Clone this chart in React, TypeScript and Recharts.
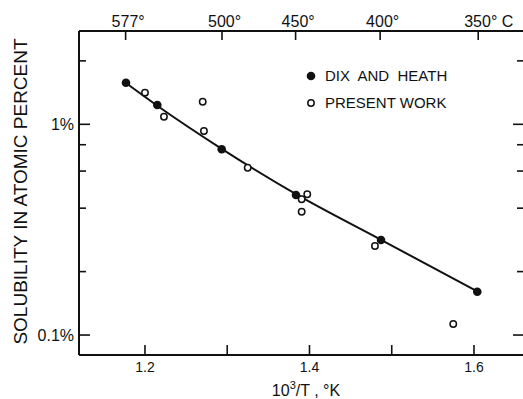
import React from "react";
import { ScatterChart, Scatter, XAxis, YAxis, Legend, Label } from "recharts";

// values: x = 10^3/T (1/K), y = solubility in atomic percent
const dixHeathX = [1.1769, 1.215, 1.2933, 1.3836, 1.487, 1.604];
const dixHeathY = [1.575, 1.235, 0.761, 0.462, 0.2825, 0.1605];
const presentX = [1.2, 1.2231, 1.2702, 1.2717, 1.3249, 1.3905, 1.3973, 1.3905, 1.4796, 1.5748];
const presentY = [1.413, 1.086, 1.28, 0.929, 0.622, 0.4406, 0.4654, 0.3847, 0.2645, 0.1128];
const curveX = [1.1769, 1.215, 1.2933, 1.3836, 1.487, 1.604];
const curveY = [1.57, 1.225, 0.765, 0.466, 0.283, 0.161];

const seriesNames = ["DIX AND HEATH", "PRESENT WORK"];
const xTicks = [1.2, 1.3, 1.4, 1.5, 1.6];
const xTickLabels = ["1.2", "", "1.4", "", "1.6"];
const yTicks = [0.1, 0.2, 0.4, 0.6, 0.8, 1, 2];
const yTickLabels = ["0.1%", "", "", "", "", "1%", ""];
const topTempsC = [577, 500, 450, 400, 350];
const topLabels = ["577°", "500°", "450°", "400°", "350° C"];

const topTicks = topTempsC.map((t) => 1000 / (t + 273));
const toPoints = (xs: number[], ys: number[]) => xs.map((x, i) => ({ x, y: ys[i] }));

const dixHeath = toPoints(dixHeathX, dixHeathY);
const present = toPoints(presentX, presentY);
const curve = toPoints(curveX, curveY);

const FONT = "'Liberation Sans', Arial, sans-serif";
const INK = "#111";
const X_DOMAIN = [1.1198, 1.6608];
const Y_DOMAIN = [0.0804, 2.772];

function BottomTick({ x, y, index }: any) {
  return (
    <g>
      <line x1={x} y1={y} x2={x} y2={y - 10} stroke={INK} strokeWidth={1.6} />
      <text x={x} y={y + 17} textAnchor="middle" fontSize={14} fontFamily={FONT} fill={INK}>
        {xTickLabels[index]}
      </text>
    </g>
  );
}

function TopTick({ x, y, index }: any) {
  return (
    <g>
      <line x1={x} y1={y} x2={x} y2={y + 9} stroke={INK} strokeWidth={1.6} />
      <text x={x - 14} y={y - 4} textAnchor="start" fontSize={16} fontFamily={FONT} fill={INK}>
        {topLabels[index]}
      </text>
    </g>
  );
}

function LeftTick({ x, y, index }: any) {
  const label = yTickLabels[index];
  const len = label ? 11 : 7;
  return (
    <g>
      <line x1={x} y1={y} x2={x + len} y2={y} stroke={INK} strokeWidth={1.6} />
      {label && (
        <text x={x - 5} y={y + 6} textAnchor="end" fontSize={16} fontFamily={FONT} fill={INK}>
          {label}
        </text>
      )}
    </g>
  );
}

function RightTick({ x, y, index }: any) {
  const len = yTickLabels[index] ? 11 : 7;
  return <line x1={x} y1={y} x2={x - len} y2={y} stroke={INK} strokeWidth={1.6} />;
}

const FilledDot = (p: any) => <circle cx={p.cx} cy={p.cy} r={4.3} fill={INK} />;
const OpenDot = (p: any) => (
  <circle cx={p.cx} cy={p.cy} r={3.2} fill="#fff" stroke={INK} strokeWidth={1.5} />
);
const NoDot = () => null;

function LegendBox({ payload }: any) {
  const items = (payload || []).filter((e: any) => seriesNames.includes(e.value));
  return (
    <div style={{ fontFamily: FONT, fontSize: 15, color: INK }}>
      {items.map((entry: any) => (
        <div key={entry.value} style={{ display: "flex", alignItems: "center", height: 27 }}>
          <svg width={12} height={12} style={{ marginRight: 8 }}>
            {entry.value === seriesNames[0] ? (
              <circle cx={6} cy={6} r={4.3} fill={INK} />
            ) : (
              <circle cx={6} cy={6} r={3.2} fill="#fff" stroke={INK} strokeWidth={1.5} />
            )}
          </svg>
          <span style={{ whiteSpace: "pre" }}>
            {entry.value === seriesNames[0] ? "DIX  AND  HEATH" : entry.value}
          </span>
        </div>
      ))}
    </div>
  );
}

export default function App() {
  return (
    <div
      style={{
        position: "absolute",
        left: 0,
        top: 0,
        width: 523,
        height: 399,
        overflow: "hidden",
        background: "#fff",
      }}
    >
      <ScatterChart width={530} height={399} margin={{ top: 0, right: 0, bottom: 0, left: 0 }}>
        <XAxis
          xAxisId="b"
          type="number"
          dataKey="x"
          orientation="bottom"
          height={44}
          domain={X_DOMAIN}
          allowDataOverflow
          ticks={xTicks}
          interval={0}
          tickSize={0}
          tickMargin={0}
          tickLine={false}
          tick={<BottomTick />}
          axisLine={{ stroke: INK, strokeWidth: 2 }}
        >
          <Label
            content={() => (
              <text x={306} y={396} textAnchor="middle" fontSize={16} fontFamily={FONT} fill={INK}>
                10
                <tspan dy={-7} fontSize={11}>3</tspan>
                <tspan dy={7}>/T , °K</tspan>
              </text>
            )}
          />
        </XAxis>
        <XAxis
          xAxisId="t"
          type="number"
          dataKey="x"
          orientation="top"
          height={31}
          domain={X_DOMAIN}
          allowDataOverflow
          ticks={topTicks}
          interval={0}
          tickSize={0}
          tickMargin={0}
          tickLine={false}
          tick={<TopTick />}
          axisLine={{ stroke: INK, strokeWidth: 2 }}
        />
        <YAxis
          yAxisId="l"
          type="number"
          dataKey="y"
          scale="log"
          width={79}
          domain={Y_DOMAIN}
          allowDataOverflow
          ticks={yTicks}
          interval={0}
          tickSize={0}
          tickMargin={0}
          tickLine={false}
          tick={<LeftTick />}
          axisLine={{ stroke: INK, strokeWidth: 2 }}
        >
          <Label
            content={() => (
              <text
                transform="translate(27,191.5) rotate(-90)"
                textAnchor="middle"
                fontSize={19}
                fontFamily={FONT}
                fill={INK}
              >
                SOLUBILITY IN ATOMIC PERCENT
              </text>
            )}
          />
        </YAxis>
        <YAxis
          yAxisId="r"
          type="number"
          dataKey="y"
          scale="log"
          orientation="right"
          width={6}
          domain={Y_DOMAIN}
          allowDataOverflow
          ticks={yTicks}
          interval={0}
          tickSize={0}
          tickMargin={0}
          tickLine={false}
          tick={<RightTick />}
          axisLine={{ stroke: INK, strokeWidth: 2 }}
        />
        <Legend
          layout="vertical"
          verticalAlign="middle"
          align="center"
          content={<LegendBox />}
          wrapperStyle={{ position: "absolute", left: 305, top: 62, width: 200 }}
        />
        <Scatter
          name="curve"
          data={curve}
          xAxisId="t"
          yAxisId="r"
          legendType="none"
          line={{ stroke: INK, strokeWidth: 2 }}
          lineJointType="monotoneX"
          shape={NoDot}
          isAnimationActive={false}
        />
        <Scatter
          name={seriesNames[0]}
          data={dixHeath}
          xAxisId="b"
          yAxisId="l"
          shape={FilledDot}
          fill={INK}
          isAnimationActive={false}
        />
        <Scatter
          name={seriesNames[1]}
          data={present}
          xAxisId="b"
          yAxisId="l"
          shape={OpenDot}
          fill="#fff"
          isAnimationActive={false}
        />
      </ScatterChart>
    </div>
  );
}
